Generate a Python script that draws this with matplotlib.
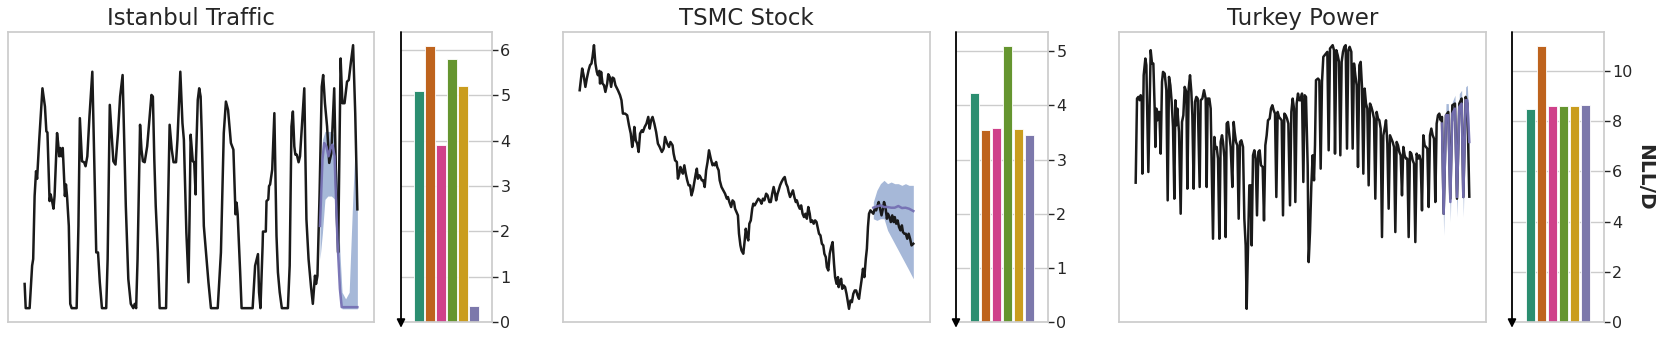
import colorsys
import matplotlib
matplotlib.use("Agg")
import matplotlib.pyplot as plt
import matplotlib.colors as mcolors

# ---------------- data ----------------
titles = ["Istanbul Traffic", "TSMC Stock", "Turkey Power"]

# Istanbul traffic: (time step, congestion index)
istanbul = [
    (0, 11.5), (3, 4.2), (14, 4.2), (21, 17.0), (24, 19.0), (28, 38.0), (32, 45.5), (35, 43.2),
    (41, 55.0), (50, 70.5), (57, 65.0), (61, 57.5), (64, 57.2), (70, 36.5), (73, 38.5), (77, 36.5),
    (81, 34.2), (84, 38.0), (91, 57.0), (94, 54.0), (97, 50.0), (100, 52.5), (103, 50.0), (107, 52.5),
    (113, 38.0), (116, 41.5), (119, 38.0), (124, 29.0), (128, 5.5), (132, 4.2), (146, 4.2), (151, 29.0),
    (155, 61.5), (161, 48.5), (167, 48.2), (171, 47.0), (176, 50.0), (182, 62.0), (190, 75.5),
    (197, 41.0), (201, 21.0), (206, 21.0), (211, 12.0), (217, 4.2), (229, 4.2), (233, 19.0),
    (239, 65.5), (243, 58.5), (249, 48.5), (255, 47.5), (262, 57.0), (268, 68.0), (275, 74.5),
    (279, 57.0), (284, 35.0), (291, 13.0), (298, 5.5), (305, 4.2), (309, 5.5), (313, 4.2), (317, 19.0),
    (324, 59.5), (328, 52.0), (332, 48.5), (337, 48.2), (344, 53.0), (351, 62.0), (356, 68.5),
    (360, 68.0), (364, 49.0), (368, 35.0), (374, 21.0), (379, 4.2), (397, 4.2), (401, 27.0),
    (407, 59.5), (413, 52.0), (418, 48.2), (425, 48.2), (429, 55.0), (437, 75.5), (443, 60.0),
    (447, 55.0), (454, 27.0), (460, 12.0), (463, 32.0), (466, 56.5), (472, 48.5), (476, 48.2),
    (480, 38.5), (481, 49.0), (486, 67.0), (490, 70.5), (494, 68.0), (497, 57.5), (503, 29.0),
    (509, 21.0), (516, 12.0), (523, 4.2), (542, 4.2), (551, 21.0), (559, 57.0), (565, 66.5),
    (571, 64.0), (579, 54.0), (586, 52.0), (592, 32.5), (595, 36.0), (598, 32.5), (605, 15.0),
    (609, 4.2), (640, 4.2), (647, 17.0), (655, 20.5), (658, 9.0), (662, 4.2), (668, 23.0),
    (669, 27.3), (677, 27.3), (679, 36.5), (684, 37.0), (686, 41.0), (689, 41.5), (695, 46.0),
    (701, 63.0), (707, 26.0), (711, 15.0), (716, 9.0), (722, 4.2), (739, 4.2), (744, 17.0),
    (749, 59.0), (753, 63.5), (757, 53.0), (760, 50.5), (764, 50.5), (769, 48.2), (773, 50.0),
    (779, 60.0), (785, 70.5), (791, 31.0), (797, 19.0), (804, 10.5), (809, 5.5), (815, 14.0),
    (818, 11.5), (822, 14.0), (828, 39.0), (834, 71.0), (838, 74.5), (843, 66.0), (849, 59.0),
    (855, 48.0), (861, 51.0), (869, 70.5), (876, 33.0), (880, 21.0), (887, 79.5), (892, 66.0),
    (898, 66.0), (905, 72.5), (910, 73.0), (916, 78.5), (922, 83.5), (928, 63.0), (934, 34.0),
]
istanbul_fc = [
    (829, 29.0), (836, 49.0), (841, 54.0), (847, 53.0), (853, 50.0), (859, 52.5), (864, 53.5),
    (870, 50.0), (878, 25.0), (885, 10.0), (890, 4.5), (900, 4.5), (910, 4.5), (920, 4.5), (934, 4.5),
]
# (time, lower, upper)
istanbul_band = [
    (829, 19.0, 41.0), (836, 27.0, 55.0), (843, 37.0, 57.5), (851, 38.0, 57.5), (861, 38.0, 57.5),
    (871, 37.0, 56.0), (878, 25.0, 41.0), (885, 9.0, 21.0), (891, 4.0, 9.0), (901, 4.0, 7.0),
    (911, 4.0, 9.0), (921, 4.0, 37.0), (926, 4.0, 49.0), (934, 4.0, 41.0),
]

# TSMC stock: (trading day, price)
tsmc = [
    (0, 83.0), (7, 89.5), (11, 87.5), (16, 84.0), (20, 86.5), (25, 89.0), (29, 90.5), (33, 91.0),
    (36, 93.0), (40, 96.5), (44, 91.0), (48, 88.5), (51, 87.5), (55, 88.8), (57, 85.0), (60, 88.5),
    (64, 85.0), (68, 84.5), (72, 82.5), (77, 85.0), (80, 87.8), (84, 87.0), (88, 84.0), (92, 86.8),
    (96, 86.5), (100, 84.5), (107, 83.0), (113, 81.5), (117, 80.0), (121, 76.0), (127, 76.0),
    (133, 75.5), (138, 72.5), (143, 70.0), (147, 66.0), (150, 68.0), (153, 72.0), (157, 68.0),
    (161, 67.0), (165, 64.5), (169, 70.0), (174, 71.0), (177, 70.5), (182, 72.0), (187, 73.0),
    (192, 75.0), (196, 71.5), (200, 74.0), (204, 75.0), (209, 73.0), (214, 70.5), (219, 67.0),
    (224, 66.0), (230, 64.5), (235, 65.5), (239, 69.0), (245, 67.0), (250, 66.0), (254, 67.5),
    (260, 66.5), (263, 64.0), (267, 62.0), (272, 61.5), (275, 56.5), (279, 58.0), (282, 60.0),
    (285, 59.0), (289, 58.0), (293, 60.5), (297, 58.0), (301, 56.0), (305, 54.5), (309, 54.5),
    (313, 51.5), (317, 53.0), (321, 55.5), (325, 58.0), (328, 59.5), (331, 56.5), (335, 57.5),
    (338, 57.0), (342, 56.0), (346, 56.0), (350, 54.0), (354, 59.0), (358, 61.5), (362, 65.0),
    (367, 62.5), (372, 60.5), (375, 61.0), (378, 60.5), (382, 61.5), (385, 60.0), (389, 59.0),
    (392, 56.0), (397, 54.0), (402, 53.0), (407, 52.0), (412, 50.5), (415, 51.0), (419, 49.5),
    (424, 48.0), (428, 50.0), (432, 49.5), (435, 47.5), (439, 46.5), (443, 45.5), (446, 40.0),
    (450, 36.5), (453, 35.0), (458, 34.0), (462, 38.0), (465, 41.5), (469, 39.0), (472, 38.0),
    (475, 43.0), (479, 44.0), (483, 47.5), (486, 49.0), (490, 48.5), (495, 49.5), (500, 50.5),
    (505, 50.0), (509, 49.0), (513, 50.5), (517, 50.0), (522, 52.0), (526, 51.5), (531, 49.5),
    (535, 49.5), (539, 52.0), (543, 54.0), (547, 52.0), (550, 50.0), (554, 52.0), (557, 53.0),
    (561, 54.5), (565, 55.5), (570, 56.5), (574, 57.0), (578, 55.0), (582, 54.0), (585, 52.5),
    (589, 51.0), (593, 52.0), (597, 53.0), (601, 51.0), (605, 49.5), (608, 50.0), (612, 48.5),
    (616, 47.5), (620, 48.5), (624, 46.0), (628, 45.0), (632, 46.0), (636, 44.5), (640, 48.0),
    (644, 46.0), (647, 43.5), (651, 44.0), (655, 43.0), (659, 44.0), (663, 43.5), (667, 41.5),
    (670, 40.0), (674, 39.5), (678, 37.0), (682, 36.5), (685, 34.0), (689, 33.0), (692, 30.0),
    (696, 29.0), (700, 34.0), (704, 36.0), (708, 37.5), (712, 31.0), (715, 27.0), (719, 25.0),
    (723, 27.0), (725, 24.0), (728, 25.5), (732, 26.5), (735, 23.5), (739, 24.5), (743, 24.0),
    (747, 22.0), (751, 19.5), (754, 17.5), (758, 20.0), (762, 19.5), (766, 22.0), (770, 23.0),
    (774, 23.0), (778, 21.5), (782, 20.5), (785, 23.0), (789, 26.0), (793, 29.5), (797, 27.0),
    (801, 32.5), (804, 35.5), (807, 42.0), (810, 46.0), (814, 47.0), (818, 46.5), (822, 46.0),
    (826, 47.5), (830, 47.0), (834, 48.5), (837, 49.5), (841, 47.5), (845, 45.5), (849, 47.5),
    (852, 49.5), (856, 48.0), (860, 44.5), (863, 46.0), (867, 45.0), (871, 43.5), (875, 45.5),
    (879, 43.5), (882, 45.0), (886, 43.0), (890, 44.0), (894, 42.0), (898, 41.0), (902, 42.5),
    (905, 40.5), (909, 40.0), (913, 40.0), (917, 38.5), (921, 40.0), (925, 38.5), (929, 36.5),
    (934, 37.0),
]
tsmc_fc = [
    (822, 47.8), (832, 48.2), (842, 48.5), (852, 48.0), (862, 48.0), (872, 47.8), (882, 47.8),
    (892, 48.3), (902, 47.7), (912, 47.8), (922, 47.5), (934, 46.8),
]
tsmc_band = [
    (822, 44.5, 49.5), (832, 44.0, 53.0), (842, 44.5, 55.0), (852, 44.5, 56.0), (862, 41.0, 55.0),
    (872, 39.0, 55.5), (882, 37.0, 55.0), (892, 35.0, 55.0), (902, 33.0, 54.5), (912, 31.0, 55.0),
    (922, 29.0, 54.5), (934, 26.5, 54.5),
]

# Turkey power: (hour, load)
turkey = [
    (33, 54.8), (37, 80.0), (41, 80.5), (45, 79.5), (48, 81.0), (51, 80.0), (53, 57.5), (57, 87.0),
    (62, 92.0), (65, 90.0), (71, 58.0), (78, 94.5), (82, 90.5), (86, 90.5), (90, 77.0), (92, 65.5),
    (95, 77.0), (98, 73.5), (100, 76.0), (104, 76.0), (108, 63.5), (112, 85.0), (115, 88.0),
    (120, 87.5), (125, 82.5), (129, 49.5), (133, 86.5), (137, 84.0), (141, 79.0), (145, 71.5),
    (149, 50.0), (152, 79.5), (155, 72.0), (158, 77.0), (163, 70.0), (168, 45.5), (172, 73.0),
    (176, 75.0), (180, 83.5), (185, 82.0), (188, 53.0), (192, 83.0), (196, 87.0), (200, 82.0),
    (203, 75.0), (207, 53.0), (211, 79.0), (215, 80.5), (219, 80.0), (225, 53.5), (228, 79.5),
    (233, 80.0), (238, 82.5), (243, 80.0), (246, 53.5), (249, 80.0), (254, 80.0), (258, 77.0),
    (265, 38.0), (269, 68.5), (272, 65.0), (276, 65.5), (280, 62.0), (284, 38.0), (288, 67.0),
    (292, 69.0), (295, 67.0), (299, 62.5), (303, 38.5), (306, 72.5), (310, 73.0), (313, 70.0),
    (318, 65.5), (323, 53.5), (327, 73.0), (330, 70.0), (334, 67.0), (338, 66.0), (342, 44.0),
    (346, 67.0), (350, 67.5), (355, 65.5), (359, 44.0), (363, 36.0), (366, 17.0), (370, 36.0),
    (374, 54.0), (378, 54.0), (381, 36.0), (385, 63.0), (389, 64.5), (393, 62.0), (397, 45.0),
    (401, 64.0), (405, 64.5), (409, 60.0), (414, 59.5), (418, 43.5), (422, 66.0), (426, 69.0),
    (430, 73.5), (435, 74.0), (439, 77.0), (443, 78.0), (447, 76.5), (451, 75.5), (455, 50.5),
    (459, 76.0), (463, 74.5), (467, 74.0), (471, 73.5), (475, 45.0), (479, 75.5), (483, 75.0),
    (487, 74.0), (491, 72.5), (496, 48.0), (500, 76.0), (504, 80.0), (508, 77.0), (512, 49.0),
    (516, 78.5), (520, 81.5), (524, 79.5), (528, 79.5), (532, 81.5), (536, 55.0), (540, 81.0),
    (544, 80.5), (549, 60.0), (552, 31.0), (556, 40.0), (560, 54.0), (564, 63.0), (568, 55.5),
    (571, 66.0), (574, 85.5), (580, 86.0), (584, 85.5), (588, 59.0), (592, 85.0), (596, 92.5),
    (600, 93.0), (604, 93.5), (608, 94.0), (612, 64.5), (616, 95.0), (620, 95.5), (624, 96.0),
    (628, 94.5), (631, 63.5), (635, 94.5), (639, 93.0), (643, 91.0), (647, 63.0), (651, 91.0),
    (655, 94.0), (659, 95.5), (663, 96.0), (667, 65.0), (671, 94.5), (675, 95.5), (680, 94.0),
    (684, 65.0), (688, 90.5), (692, 87.0), (696, 84.0), (700, 59.5), (704, 90.0), (708, 91.0),
    (712, 83.5), (716, 57.5), (720, 83.0), (724, 78.5), (728, 77.0), (732, 54.0), (736, 78.5),
    (740, 77.5), (744, 76.0), (748, 74.0), (752, 50.0), (756, 76.0), (760, 74.0), (764, 73.5),
    (768, 71.0), (772, 38.5), (776, 69.0), (780, 71.0), (784, 73.5), (788, 66.5), (792, 47.0),
    (796, 69.0), (800, 68.0), (804, 67.0), (808, 65.5), (812, 40.0), (816, 67.0), (820, 66.0),
    (824, 64.0), (828, 63.0), (832, 51.0), (836, 65.5), (840, 63.0), (844, 62.0), (848, 62.0),
    (852, 38.5), (856, 64.0), (860, 63.5), (864, 61.5), (868, 60.5), (872, 37.0), (876, 63.5),
    (880, 62.0), (884, 63.0), (888, 61.5), (892, 46.5), (896, 69.0), (900, 66.0), (904, 65.5),
    (908, 65.0), (912, 47.5), (916, 69.0), (920, 71.0), (924, 69.0), (928, 68.0), (932, 49.0),
    (936, 72.5), (940, 75.0), (944, 75.5), (948, 73.5), (952, 74.5), (957, 45.5), (964, 75.0),
    (971, 76.0), (977, 50.0), (983, 78.0), (991, 78.5), (997, 50.0), (1004, 78.5), (1011, 80.0),
    (1016, 50.5), (1023, 80.5), (1028, 78.5), (1034, 50.6),
]
turkey_fc = [
    (952, 72.5), (957, 45.5), (964, 75.0), (971, 75.0), (977, 49.0), (983, 75.5), (991, 77.0),
    (997, 50.5), (1004, 77.5), (1011, 78.5), (1016, 50.5), (1023, 79.5), (1028, 79.5), (1034, 67.0),
]
turkey_band = [
    (952, 70.0, 76.0), (957, 39.0, 48.0), (964, 72.5, 78.5), (971, 72.5, 78.5), (977, 43.0, 52.0),
    (983, 73.0, 79.0), (991, 74.5, 81.0), (997, 44.5, 53.0), (1004, 75.0, 81.5), (1011, 76.0, 82.5),
    (1016, 44.5, 53.0), (1023, 77.0, 83.5), (1028, 77.0, 84.0), (1034, 62.0, 71.0),
]

# NLL/D per method (6 methods, same order in every panel)
nll_istanbul = [5.09, 6.09, 3.90, 5.80, 5.20, 0.35]
nll_tsmc = [4.23, 3.55, 3.59, 5.10, 3.56, 3.45]
nll_turkey = [8.49, 11.0, 8.60, 8.62, 8.61, 8.65]
yticks = [[0, 1, 2, 3, 4, 5, 6], [0, 1, 2, 3, 4, 5], [0, 2, 4, 6, 8, 10]]

series = [istanbul, tsmc, turkey]
forecasts = [istanbul_fc, tsmc_fc, turkey_fc]
bands = [istanbul_band, tsmc_band, turkey_band]
nlls = [nll_istanbul, nll_tsmc, nll_turkey]


def desat(c, prop=0.75):
    h, l, s = colorsys.rgb_to_hls(*mcolors.to_rgb(c))
    return colorsys.hls_to_rgb(h, l, s * prop)


bar_colors = [desat(c) for c in ["#1b9e77", "#d95f02", "#e7298a", "#66a61e", "#e6ab02", "#7570b3"]]

# ---------------- layout (pixels of a 1661x340 canvas) ----------------
W, H = 1661, 340
line_x = [(8, 374), (563, 930), (1119, 1486)]
bar_x = [(401, 492), (956, 1048), (1512, 1604)]
GRAY = "#cccccc"
TXT = "#262626"

fig = plt.figure(figsize=(W / 100, H / 100), dpi=100)


def rect(x0, x1):
    return [x0 / W, 18 / H, (x1 - x0) / W, 290 / H]


for i in range(3):
    ax = fig.add_axes(rect(*line_x[i]))
    t, v = zip(*series[i])
    ft, fv = zip(*forecasts[i])
    bt, lo, hi = zip(*bands[i])
    ax.fill_between(bt, lo, hi, color="#a6b8d8", lw=0, zorder=1)
    ax.plot(t, v, color="#1a1a1a", lw=1.8, zorder=2)
    ax.plot(ft, fv, color="#7570b3", lw=1.8, alpha=0.95, zorder=3)
    ax.set_xticks([])
    ax.set_yticks([])
    for sp in ax.spines.values():
        sp.set_color(GRAY)
        sp.set_linewidth(1.25)
    ax.set_title(titles[i], fontsize=16.5, color=TXT, pad=5)

    bx = fig.add_axes(rect(*bar_x[i]))
    bx.set_axisbelow(True)
    bx.yaxis.grid(True, color=GRAY, lw=1.0)
    bx.bar(range(len(nlls[i])), nlls[i], width=0.85, color=bar_colors,
           edgecolor="white", linewidth=0.6)
    bx.set_xlim(-1.65, len(nlls[i]) - 1 + 1.65)
    bx.set_xticks([])
    bx.set_yticks(yticks[i])
    bx.yaxis.tick_right()
    bx.tick_params(axis="y", labelsize=11.5, labelcolor=TXT, color=TXT,
                   length=4, width=1, pad=2)
    for name, sp in bx.spines.items():
        sp.set_color(GRAY)
        sp.set_linewidth(1.25)
    bx.spines["left"].set_visible(False)
    bx.annotate("", xy=(0, -0.02), xytext=(0, 1), xycoords="axes fraction",
                textcoords="axes fraction", annotation_clip=False,
                arrowprops=dict(arrowstyle="-|>", color="black", lw=1.3,
                                mutation_scale=12, shrinkA=0, shrinkB=0))
    if i == 2:
        bx.yaxis.set_label_position("right")
        bx.set_ylabel("NLL/D", rotation=270, va="bottom", fontsize=14.5,
                      fontweight="bold", color=TXT, labelpad=2)

fig.savefig("out.png", dpi=100)
